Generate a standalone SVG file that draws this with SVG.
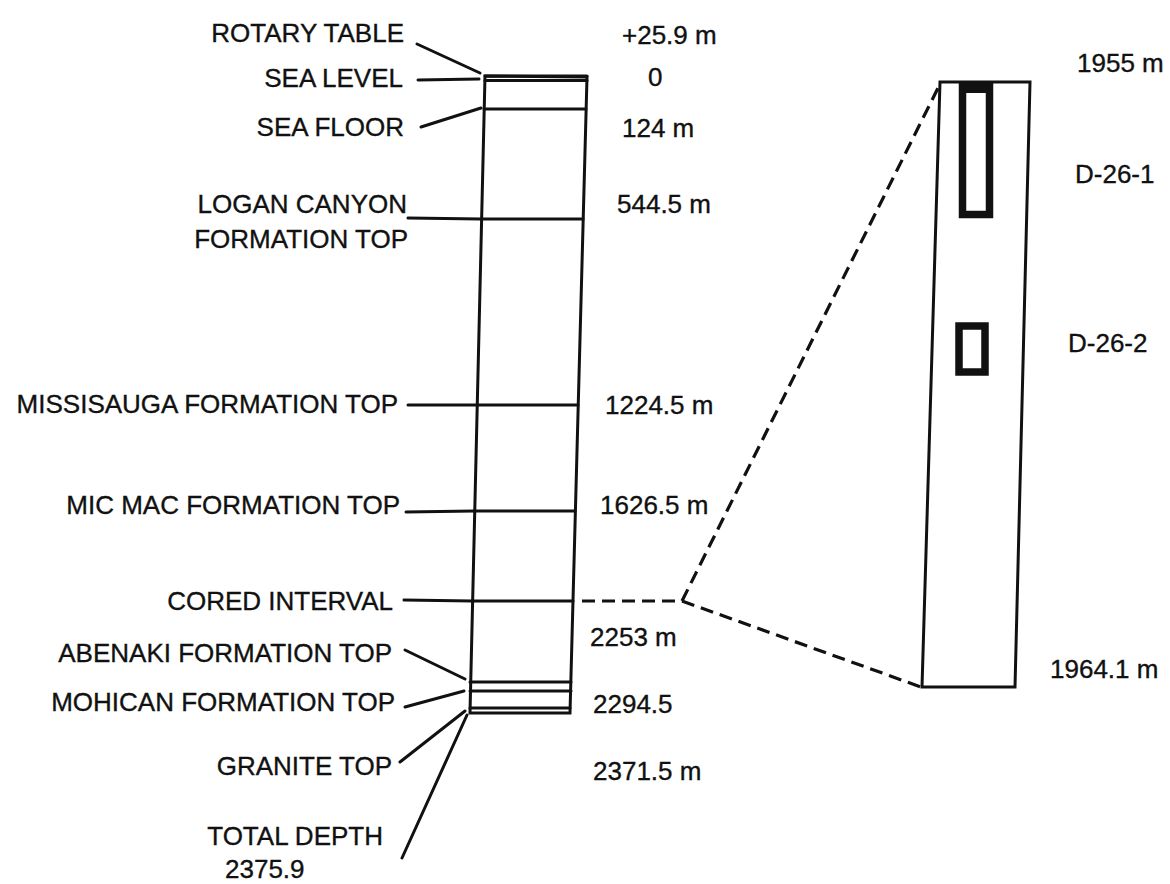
<svg xmlns="http://www.w3.org/2000/svg" width="1170" height="884" viewBox="0 0 1170 884">
<style>
  text { font-family: "Liberation Sans", Arial, sans-serif; font-size: 26px; fill: #111; stroke: #111; stroke-width: 0.35; }
  .l { text-anchor: end; }
  .ln { stroke: #111; stroke-width: 3; fill: none; stroke-linecap: round; }
  .edge { stroke: #111; stroke-width: 3; fill: none; stroke-linejoin: miter; }
  .dash { stroke: #111; stroke-width: 3.2; fill: none; stroke-dasharray: 13 7; }
  .core { stroke: #111; stroke-width: 7.5; fill: none; }
</style>
<rect width="1170" height="884" fill="#fff"/>

<g id="well-column">
  <polygon class="edge" points="485,76 587,77 570,713 470,713"/>
  <line class="ln" x1="485" y1="76" x2="587" y2="76" stroke-width="2.5"/>
  <line class="ln" x1="485" y1="80.5" x2="587" y2="80.5" stroke-width="4"/>
  <line class="ln" x1="484" y1="109" x2="586" y2="109"/>
  <line class="ln" x1="481" y1="219" x2="583" y2="219"/>
  <line class="ln" x1="477" y1="405" x2="578" y2="405"/>
  <line class="ln" x1="474" y1="511" x2="575" y2="511"/>
  <line class="ln" x1="472" y1="601" x2="573" y2="601"/>
  <line class="ln" x1="470" y1="682" x2="571" y2="682" stroke-width="3.5"/>
  <line class="ln" x1="470" y1="691" x2="571" y2="691" stroke-width="3.5"/>
  <line class="ln" x1="470" y1="708" x2="570" y2="708" stroke-width="3.5"/>
</g>

<g id="core-detail">
  <polygon class="edge" points="940,82 1030,82 1015,687 922,687"/>
  <rect x="959" y="83" width="34" height="10" fill="#111"/>
  <rect class="core" x="962.5" y="86.5" width="27" height="128"/>
  <rect class="core" x="959" y="326" width="26" height="46"/>
</g>

<g id="connectors">
  <line class="ln" x1="417" y1="44" x2="480" y2="73"/>
  <line class="ln" x1="418" y1="80" x2="479" y2="79"/>
  <line class="ln" x1="421" y1="127" x2="481" y2="108"/>
  <line class="ln" x1="408" y1="218" x2="481" y2="219"/>
  <line class="ln" x1="408" y1="405" x2="477" y2="405"/>
  <line class="ln" x1="406" y1="512" x2="474" y2="511"/>
  <line class="ln" x1="404" y1="600" x2="472" y2="601"/>
  <line class="ln" x1="405" y1="650" x2="465" y2="679"/>
  <line class="ln" x1="405" y1="707" x2="464" y2="691"/>
  <line class="ln" x1="400" y1="762" x2="465" y2="711"/>
  <line class="ln" x1="402" y1="858" x2="467" y2="715"/>
  <polyline class="dash" points="582,601 682,601"/>
  <polyline class="dash" points="682,601 940,84"/>
  <polyline class="dash" points="682,601 921,687"/>
</g>

<g id="labels-left">
  <text class="l" x="404" y="42">ROTARY TABLE</text>
  <text class="l" x="403" y="87">SEA LEVEL</text>
  <text class="l" x="404" y="136">SEA FLOOR</text>
  <text class="l" x="407" y="213">LOGAN CANYON</text>
  <text class="l" x="408" y="248">FORMATION TOP</text>
  <text class="l" x="398" y="413">MISSISAUGA FORMATION TOP</text>
  <text class="l" x="400" y="514">MIC MAC FORMATION TOP</text>
  <text class="l" x="393" y="610">CORED INTERVAL</text>
  <text class="l" x="392" y="662">ABENAKI FORMATION TOP</text>
  <text class="l" x="395" y="711">MOHICAN FORMATION TOP</text>
  <text class="l" x="392" y="775">GRANITE TOP</text>
  <text class="l" x="383" y="845">TOTAL DEPTH</text>
  <text x="225" y="878">2375.9</text>
</g>

<g id="labels-depth">
  <text x="622" y="44">+25.9 m</text>
  <text x="648" y="86">0</text>
  <text x="622" y="137">124 m</text>
  <text x="617" y="213">544.5 m</text>
  <text x="605" y="414">1224.5 m</text>
  <text x="600" y="514">1626.5 m</text>
  <text x="590" y="646">2253 m</text>
  <text x="593" y="713">2294.5</text>
  <text x="593" y="780">2371.5 m</text>
</g>

<g id="labels-core">
  <text x="1077" y="72">1955 m</text>
  <text x="1075" y="183">D-26-1</text>
  <text x="1068" y="352">D-26-2</text>
  <text x="1050" y="678">1964.1 m</text>
</g>
</svg>
